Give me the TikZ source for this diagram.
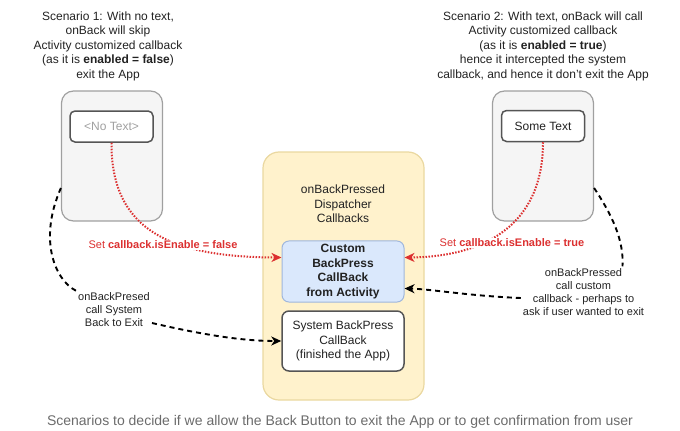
\documentclass[tikz,border=0pt]{standalone}
\usepackage{fontspec}
\setmainfont{Liberation Sans}
\usetikzlibrary{arrows.meta}

\definecolor{txtgrey}{HTML}{222222}
\definecolor{phonefill}{HTML}{F5F5F5}
\definecolor{phoneline}{HTML}{A0A0A0}
\definecolor{boxline}{HTML}{555555}
\definecolor{dispfill}{HTML}{FFF2CC}
\definecolor{displine}{HTML}{EAD8A0}
\definecolor{cbfill}{HTML}{DAE8FC}
\definecolor{cbline}{HTML}{9FB6DC}
\definecolor{setred}{HTML}{DC3030}
\definecolor{capgrey}{HTML}{6B6B6B}

\tikzset{
    phone/.style={draw=phoneline, fill=phonefill, line width=1.2pt, rounded corners=12pt,
        minimum width=101pt, minimum height=130pt},
    txtbox/.style={draw=boxline, fill=white, line width=1.5pt, rounded corners=5pt,
        minimum width=83pt, minimum height=31pt, font=\fontsize{12}{14.5}\selectfont},
    dispbox/.style={draw=displine, fill=dispfill, line width=1.2pt, rounded corners=16pt,
        minimum width=161pt, minimum height=248pt},
    cbbox/.style={draw=cbline, fill=cbfill, line width=1pt, rounded corners=7pt,
        minimum width=122pt, minimum height=61pt, align=center,
        font=\fontsize{12}{14.5}\selectfont\bfseries},
    sysbox/.style={draw=boxline, fill=white, line width=1.5pt, rounded corners=7pt,
        minimum width=122pt, minimum height=60pt, align=center,
        font=\fontsize{12}{14.5}\selectfont},
    note/.style={align=center, inner sep=2pt, font=\fontsize{12}{14.5}\selectfont},
    smallnote/.style={align=center, inner sep=2pt, font=\fontsize{11}{13}\selectfont},
    setlbl/.style={fill=white, inner sep=1pt, text=setred, font=\fontsize{11}{13}\selectfont},
    setarrow/.style={draw=setred, line width=2pt, dash pattern=on 1.5pt off 1.5pt,
        -{Stealth[length=10pt, width=9pt, inset=3pt]}},
    backarrow/.style={draw=black, line width=1.9pt, dash pattern=on 5pt off 4pt,
        -{Stealth[length=10pt, width=9pt, inset=3pt]}},
}

\begin{document}
\begin{tikzpicture}[x=1pt, y=1pt, color=txtgrey]
    \useasboundingbox (0,0) rectangle (680,-431);

    % Scenario texts
    \node[note] (scenA) at (108,-46) {Scenario 1: With no text,\\onBack will skip\\Activity customized callback\\(as it is \textbf{enabled = false})\\exit the App};
    \node[note] (scenB) at (543,-46) {Scenario 2: With text, onBack will call\\Activity customized callback\\(as it is \textbf{enabled = true})\\hence it intercepted the system\\callback, and hence it don't exit the App};

    % Phones
    \node[phone] (phoneA) at (112,-156) {};
    \node[txtbox, text=phoneline] (noText) at (111.5,-126.5) {<No Text>};
    \node[phone] (phoneB) at (543,-156) {};
    \node[txtbox] (someText) at (543,-126) {Some Text};

    % Dispatcher with its callbacks
    \node[dispbox] (disp) at (343.5,-276) {};
    \node[note] (dispTitle) at (343,-204) {onBackPressed\\Dispatcher\\Callbacks};
    \node[cbbox] (custom) at (343,-271.5) {Custom\\BackPress\\CallBack\\from Activity};
    \node[sysbox] (sysBack) at (343,-341) {System BackPress\\CallBack\\(finished the App)};

    % Labels of the back presses
    \node[smallnote] (sysNote) at (114,-310) {onBackPresed\\call System\\Back to Exit};
    \node[smallnote] (customNote) at (583.5,-292) {onBackPressed\\call custom\\callback - perhaps to\\ask if user wanted to exit};

    % Set callback.isEnable
    \draw[setarrow] (noText.south) .. controls (111,-230) and (170,-257) .. ([yshift=14pt]custom.west);
    \draw[setarrow] (someText.south) .. controls (543,-235) and (470,-257) .. ([yshift=14pt]custom.east);
    \node[setlbl] (setFalse) at (163,-245) {Set \textbf{callback.isEnable = false}};
    \node[setlbl] (setTrue) at (512,-243) {Set \textbf{callback.isEnable = true}};

    % Back presses
    \draw[backarrow, -] ([yshift=-32pt]phoneA.west) .. controls (38,-240) and (55,-280) .. (sysNote.north west);
    \draw[backarrow] ([yshift=-13pt]sysNote.east) .. controls (200,-334) and (240,-341) .. (sysBack.west);
    \draw[backarrow, -] ([yshift=-32pt]phoneB.east) .. controls (612,-215) and (624,-240) .. ([xshift=39pt]customNote.north);
    \draw[backarrow] ([yshift=-6pt]customNote.west) .. controls (470,-296) and (430,-289) .. ([yshift=-17pt]custom.east);

    % Caption
    \node[text=capgrey, font=\fontsize{14}{16}\selectfont] (caption) at (340,-422) {Scenarios to decide if we allow the Back Button to exit the App or to get confirmation from user};
\end{tikzpicture}
\end{document}
